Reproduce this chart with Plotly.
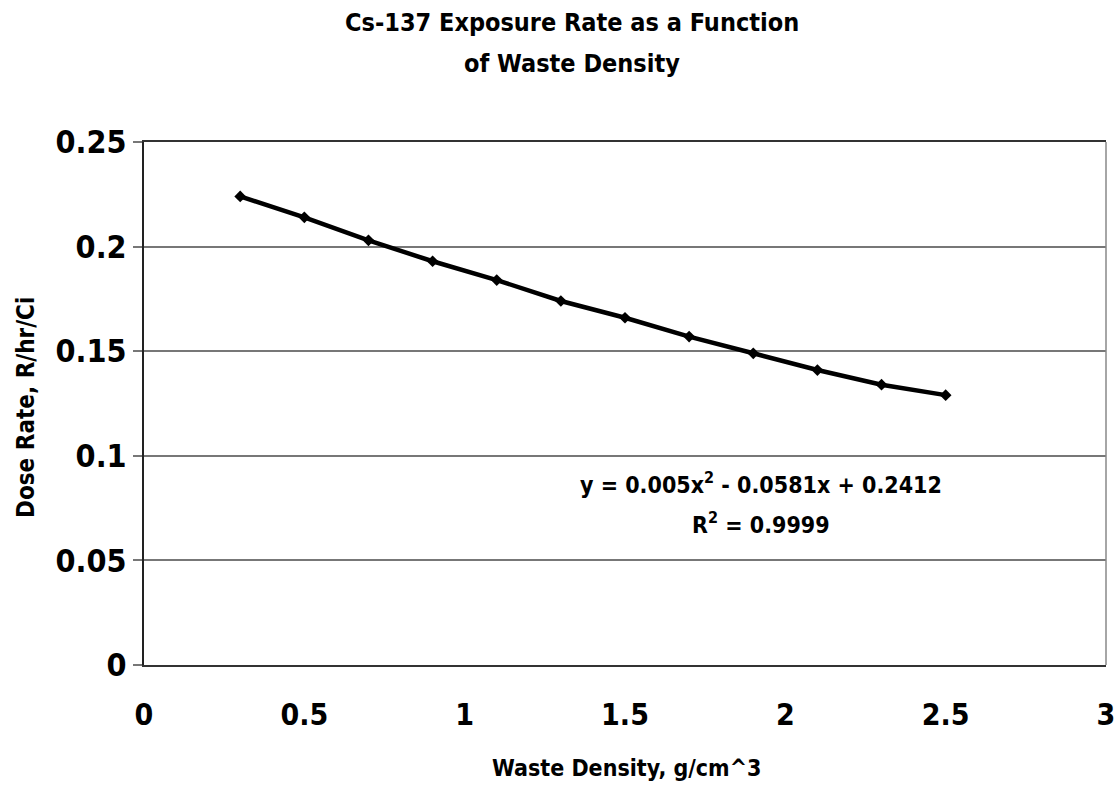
import plotly.graph_objects as go

density = [0.3, 0.5, 0.7, 0.9, 1.1, 1.3, 1.5, 1.7, 1.9, 2.1, 2.3, 2.5]
dose_rate = [0.224, 0.214, 0.203, 0.193, 0.184, 0.174, 0.166, 0.157, 0.149, 0.141, 0.134, 0.129]

x_ticks = [0, 0.5, 1, 1.5, 2, 2.5, 3]
x_tick_text = ["0", "0.5", "1", "1.5", "2", "2.5", "3"]
y_ticks = [0, 0.05, 0.1, 0.15, 0.2, 0.25]
y_tick_text = ["0", "0.05", "0.1", "0.15", "0.2", "0.25"]

title_lines = ["Cs-137 Exposure Rate as a Function", "of Waste Density"]
x_title = "Waste Density, g/cm^3"
y_title = "Dose Rate, R/hr/Ci"
fit_text = ["y = 0.005x<sup>2</sup> - 0.0581x + 0.2412", "R<sup>2</sup> = 0.9999"]

FONT = "DejaVu Sans Condensed, Liberation Sans Narrow, Arial Narrow, sans-serif"
W, H = 1117, 788
L, R, T, B = 144, 11, 142, 123
PW, PH = W - L - R, H - T - B


def px_x(px):
    return (px - L) / PW


def px_y(py):
    return (H - B - py) / PH


fig = go.Figure()
fig.add_trace(go.Scatter(
    x=density, y=dose_rate, mode="lines+markers",
    line=dict(color="black", width=4.5),
    marker=dict(symbol="diamond", size=9, color="black"),
    showlegend=False,
))

fig.update_layout(
    width=W, height=H,
    margin=dict(l=L, r=R, t=T, b=B, autoexpand=False),
    paper_bgcolor="white", plot_bgcolor="white",
    font=dict(family=FONT, color="black"),
    showlegend=False,
)

fig.update_xaxes(
    range=[0, 3], tickvals=x_ticks, ticktext=x_tick_text,
    tickfont=dict(family=FONT, size=30, color="black", weight="bold"),
    showgrid=False, zeroline=False, automargin=False,
    showline=True, linecolor="#333", linewidth=2, mirror=True,
    ticks="", ticklabelstandoff=22,
)
fig.update_yaxes(
    range=[0, 0.25], tickvals=y_ticks, ticktext=y_tick_text,
    ticksuffix="\u00a0\u00a0\u00a0",
    tickfont=dict(family=FONT, size=32, color="black", weight="bold"),
    showgrid=True, gridcolor="#777", gridwidth=1.5, zeroline=False, automargin=False,
    showline=True, linecolor="#222", linewidth=2, mirror=False,
    ticks="outside", ticklen=9, tickwidth=1.5, tickcolor="#777",
)
# right border (lighter, like the reference)
fig.add_shape(type="line", xref="paper", yref="paper", x0=1, x1=1, y0=0, y1=1,
              line=dict(color="#888", width=1.5))

for line, yy in zip(title_lines, [22, 63]):
    fig.add_annotation(
        text="<b>" + line + "</b>", xref="paper", yref="paper",
        x=px_x(572), y=px_y(yy),
        showarrow=False, xanchor="center", yanchor="middle",
        font=dict(family=FONT, size=25, color="black"),
    )

fig.add_annotation(
    text="<b>" + x_title + "</b>", xref="paper", yref="paper",
    x=px_x(626), y=px_y(768), showarrow=False, xanchor="center", yanchor="middle",
    font=dict(family=FONT, size=23, color="black"),
)
fig.add_annotation(
    text="<b>" + y_title + "</b>", xref="paper", yref="paper", textangle=-90,
    x=px_x(26), y=px_y(408), showarrow=False, xanchor="center", yanchor="middle",
    font=dict(family=FONT, size=24, color="black"),
)

for line, yy in zip(fit_text, [0.087, 0.068]):
    fig.add_annotation(
        text="<b>" + line + "</b>", x=1.924, y=yy, xref="x", yref="y",
        showarrow=False, xanchor="center", yanchor="middle",
        font=dict(family=FONT, size=23, color="black"),
    )

fig.write_html(
    "out.html",
    config={"displayModeBar": False},
    post_script="document.body.style.margin='0';document.body.style.overflow='hidden';",
)
